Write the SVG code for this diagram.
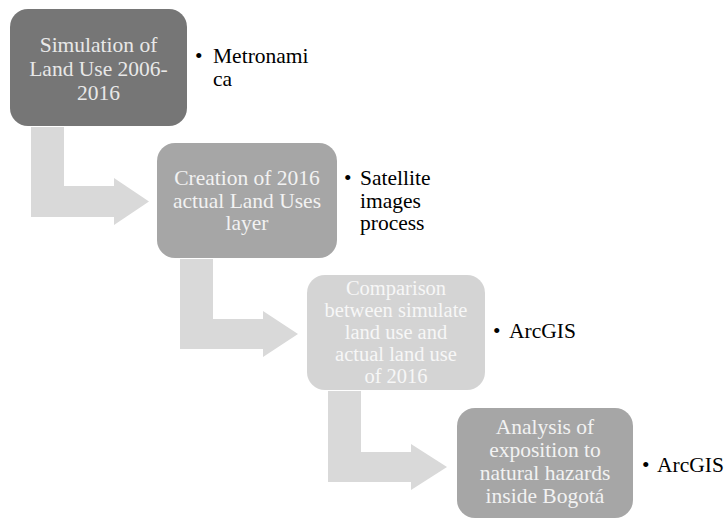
<svg xmlns="http://www.w3.org/2000/svg" width="727" height="520" viewBox="0 0 727 520">
<style>
.box-text{font-family:"Liberation Serif","Times New Roman",serif;font-size:21.5px;text-anchor:middle}
.box-text.tight{font-size:20.5px}
.bullet{font-family:"Liberation Serif","Times New Roman",serif;font-size:21.5px;fill:#000}
.arrow{fill:#d9d9d9}
</style>
<rect width="727" height="520" fill="#ffffff"/>
<g id="connectors">
<polygon class="arrow" points="31,127 64,127 64,186 114,186 114,178 149,201.5 114,225 114,217 31,217"/>
<polygon class="arrow" points="180,259 213,259 213,319 263,319 263,311 298,334 263,357 263,349 180,349"/>
<polygon class="arrow" points="328,391 361,391 361,452 411,452 411,444 447,467 411,490 411,482 328,482"/>
</g>
<g id="node1">
<rect x="10" y="9" width="177" height="117" rx="18" fill="#767676"/>
<text class="box-text" fill="#e8e8e8"><tspan x="98.5" y="52">Simulation of</tspan><tspan x="98.5" y="76">Land Use 2006-</tspan><tspan x="98.5" y="100">2016</tspan></text>
</g>
<g id="node1-notes">
<text class="bullet"><tspan x="195" y="63">•</tspan><tspan x="213" y="63">Metronami</tspan><tspan x="213" y="85.5">ca</tspan></text>
</g>
<g id="node2">
<rect x="157" y="143" width="180" height="115" rx="18" fill="#a6a6a6"/>
<text class="box-text" fill="#f2f2f2"><tspan x="247" y="185">Creation of 2016</tspan><tspan x="247" y="207.5">actual Land Uses</tspan><tspan x="247" y="230">layer</tspan></text>
</g>
<g id="node2-notes">
<text class="bullet"><tspan x="344" y="185">•</tspan><tspan x="360" y="185">Satellite</tspan><tspan x="360" y="207.5">images</tspan><tspan x="360" y="230">process</tspan></text>
</g>
<g id="node3">
<rect x="307" y="275" width="178" height="115" rx="18" fill="#d4d4d4"/>
<text class="box-text tight" fill="#f7f7f7"><tspan x="396" y="295">Comparison</tspan><tspan x="396" y="317">between simulate</tspan><tspan x="396" y="339">land use and</tspan><tspan x="396" y="361">actual land use</tspan><tspan x="396" y="383">of 2016</tspan></text>
</g>
<g id="node3-notes">
<text class="bullet"><tspan x="493" y="338">•</tspan><tspan x="509" y="338">ArcGIS</tspan></text>
</g>
<g id="node4">
<rect x="457" y="408" width="176" height="110" rx="18" fill="#a6a6a6"/>
<text class="box-text" fill="#f2f2f2"><tspan x="545" y="434">Analysis of</tspan><tspan x="545" y="457">exposition to</tspan><tspan x="545" y="480">natural hazards</tspan><tspan x="545" y="503">inside Bogotá</tspan></text>
</g>
<g id="node4-notes">
<text class="bullet"><tspan x="642" y="472">•</tspan><tspan x="657" y="472">ArcGIS</tspan></text>
</g>
</svg>
